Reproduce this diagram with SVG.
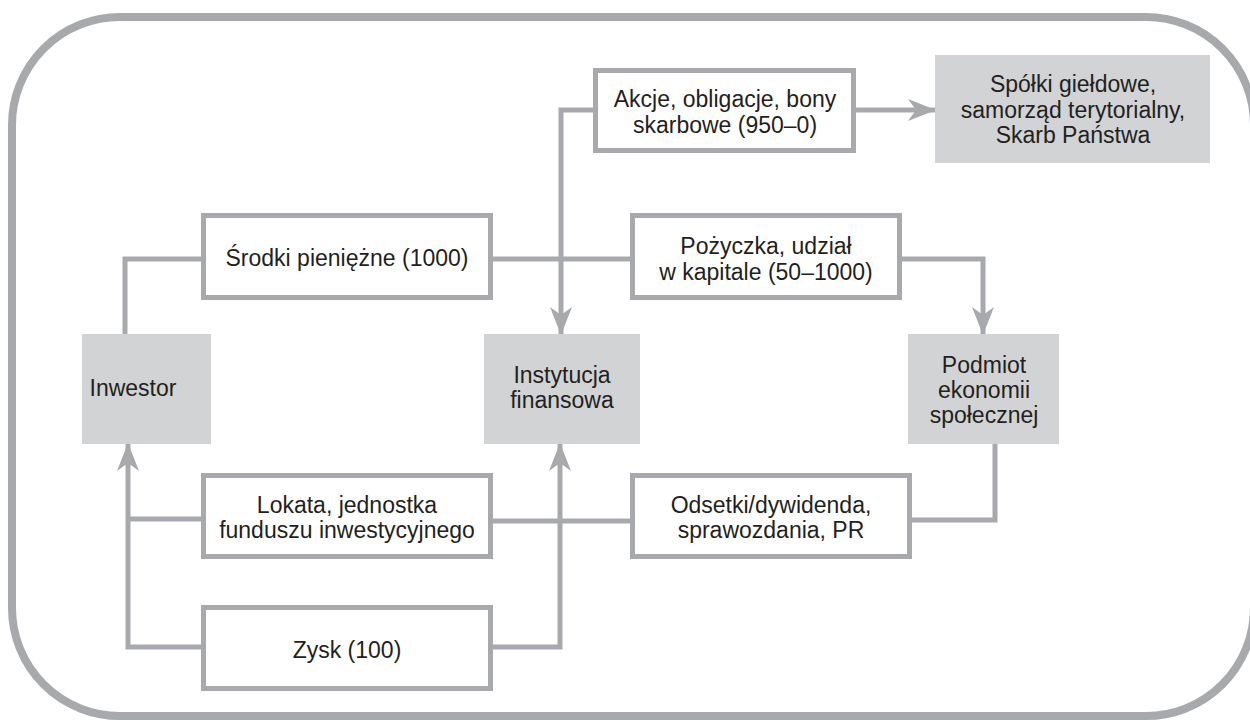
<svg xmlns="http://www.w3.org/2000/svg" width="1250" height="720" viewBox="0 0 1250 720">
<style>
.frame{fill:none;stroke:#a7a9ac;stroke-width:8}
.gbox{fill:#d1d3d4;stroke:none}
.wbox{fill:#ffffff;stroke:#a7a9ac;stroke-width:5}
.con{fill:none;stroke:#a7a9ac;stroke-width:5}
text{font-family:"Liberation Sans",Arial,sans-serif;font-size:23px;fill:#231f20;text-anchor:middle}
</style>
<defs>
<marker id="arr" markerUnits="userSpaceOnUse" viewBox="0 0 28 22" refX="27" refY="11" markerWidth="28" markerHeight="22" orient="auto">
<path d="M0,0 L28,11 L0,22 L8,11 Z" fill="#a7a9ac"/>
</marker>
</defs>
<rect width="1250" height="720" fill="#ffffff"/>
<path class="frame" d="M120,17 H1146 A108,108 0 0 1 1254,125 V608 A108,108 0 0 1 1146,716 H120 A108,108 0 0 1 12,608 V125 A108,108 0 0 1 120,17 Z"/>
<g id="connectors">
<path class="con" d="M125,334 V259 H202"/>
<path class="con" d="M492,259 H631"/>
<path class="con" d="M901,259 H983 V334" marker-end="url(#arr)"/>
<path class="con" d="M595,110 H561 V334" marker-end="url(#arr)"/>
<path class="con" d="M855,110 H935" marker-end="url(#arr)"/>
<path class="con" d="M202,647 H128 V444" marker-end="url(#arr)"/>
<path class="con" d="M202,519 H128"/>
<path class="con" d="M492,521 H631"/>
<path class="con" d="M492,647 H560 V444" marker-end="url(#arr)"/>
<path class="con" d="M995,444 V520 H911"/>
</g>
<g id="inwestor">
<rect class="gbox" x="82" y="334" width="129" height="110"/>
<text x="133" y="396">Inwestor</text>
</g>
<g id="instytucja">
<rect class="gbox" x="484" y="334" width="156" height="110"/>
<text x="562" y="383">Instytucja</text>
<text x="562" y="408">finansowa</text>
</g>
<g id="podmiot">
<rect class="gbox" x="908" y="334" width="151" height="110"/>
<text x="984" y="373">Podmiot</text>
<text x="984" y="398">ekonomii</text>
<text x="984" y="423">społecznej</text>
</g>
<g id="spolki">
<rect class="gbox" x="935" y="55" width="275" height="108"/>
<text x="1073" y="92">Spółki giełdowe,</text>
<text x="1073" y="118">samorząd terytorialny,</text>
<text x="1073" y="143">Skarb Państwa</text>
</g>
<g id="akcje">
<rect class="wbox" x="595.5" y="70.5" width="258" height="80"/>
<text x="725" y="107">Akcje, obligacje, bony</text>
<text x="725" y="133">skarbowe (950–0)</text>
</g>
<g id="srodki">
<rect class="wbox" x="203.5" y="215.5" width="287" height="82"/>
<text x="347" y="266">Środki pieniężne (1000)</text>
</g>
<g id="pozyczka">
<rect class="wbox" x="632.5" y="215.5" width="267" height="82"/>
<text x="766" y="254">Pożyczka, udział</text>
<text x="766" y="280">w kapitale (50–1000)</text>
</g>
<g id="lokata">
<rect class="wbox" x="203.5" y="475.5" width="287" height="81"/>
<text x="347" y="513">Lokata, jednostka</text>
<text x="347" y="538">funduszu inwestycyjnego</text>
</g>
<g id="odsetki">
<rect class="wbox" x="632.5" y="475.5" width="277" height="81"/>
<text x="771" y="513">Odsetki/dywidenda,</text>
<text x="771" y="538">sprawozdania, PR</text>
</g>
<g id="zysk">
<rect class="wbox" x="203.5" y="607.5" width="287" height="81"/>
<text x="347" y="658">Zysk (100)</text>
</g>
</svg>
